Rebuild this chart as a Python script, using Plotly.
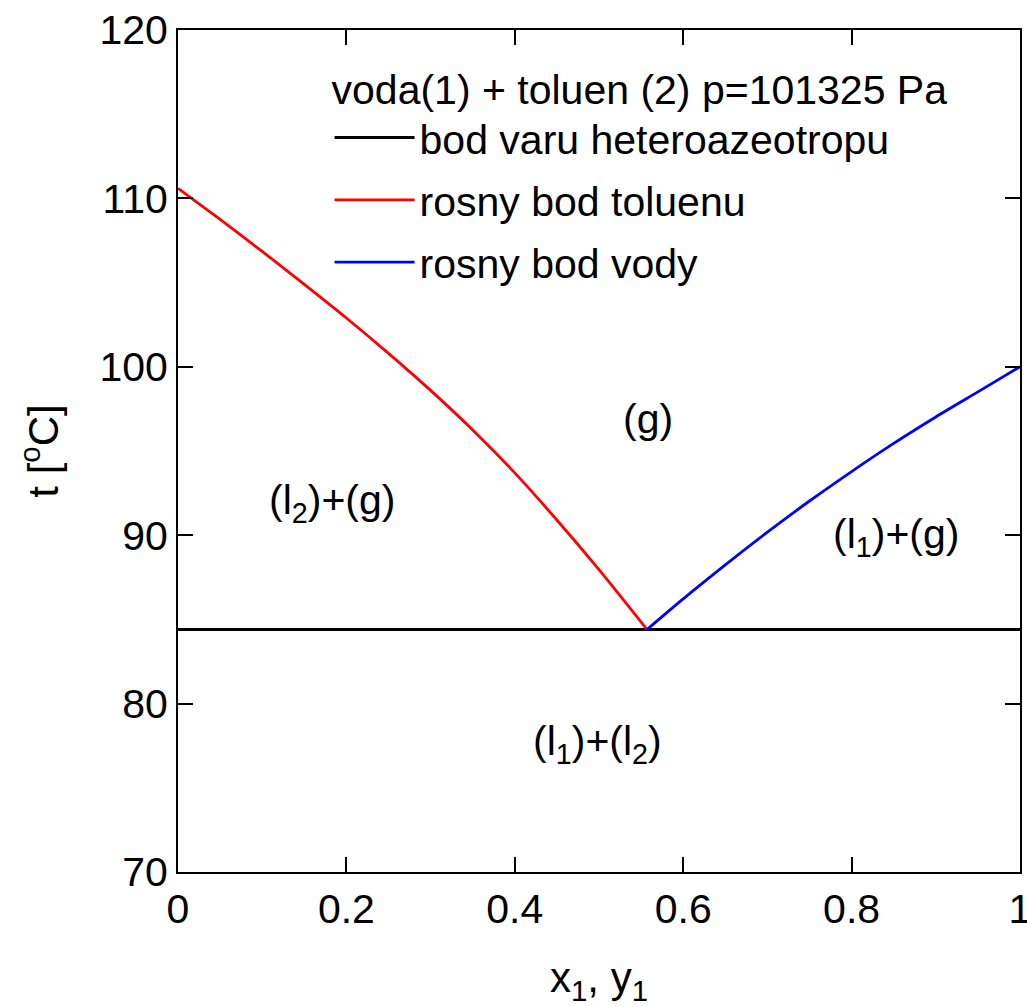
import plotly.graph_objects as go

# Phase diagram of water(1) + toluene(2) at p = 101325 Pa
t_azeo = 84.4          # heteroazeotrope boiling point [°C]

# dew curve of toluene (left branch)
y1_tol = [0.0, 0.05, 0.10, 0.15, 0.20, 0.25, 0.30, 0.35, 0.40, 0.45, 0.50, 0.557]
t_tol = [110.6, 108.75, 106.85, 104.9, 102.9, 100.8, 98.6, 96.25, 93.7, 90.9, 87.95, 84.4]

# dew curve of water (right branch)
y1_w = [0.557, 0.60, 0.65, 0.70, 0.75, 0.80, 0.85, 0.90, 0.95, 1.0]
t_w = [84.4, 86.22, 88.24, 90.18, 92.03, 93.78, 95.45, 97.02, 98.51, 100.0]

# heteroazeotrope line spans the whole composition range
x_line = [0.0, 1.0]
t_line = [t_azeo, t_azeo]

x_ticks = [0, 0.2, 0.4, 0.6, 0.8, 1]
x_tick_text = ["0", "0.2", "0.4", "0.6", "0.8", "1"]
t_ticks = [70, 80, 90, 100, 110, 120]

region_labels = ["(g)", "(l<sub>2</sub>)+(g)", "(l<sub>1</sub>)+(g)", "(l<sub>1</sub>)+(l<sub>2</sub>)"]
region_x = [0.558, 0.183, 0.853, 0.498]
region_t = [96.9, 91.9, 89.9, 77.6]

FONT = "Liberation Sans, Arial, Helvetica, sans-serif"

fig = go.Figure()
fig.add_trace(go.Scatter(x=x_line, y=t_line, mode="lines",
                         line=dict(color="black", width=3),
                         name="bod varu heteroazeotropu", legendgroup="a"))
fig.add_trace(go.Scatter(x=y1_tol, y=t_tol, mode="lines",
                         line=dict(color="#ff0000", width=2.8, shape="spline", smoothing=0.8),
                         name="rosny bod toluenu", legendgroup="b"))
fig.add_trace(go.Scatter(x=y1_w, y=t_w, mode="lines",
                         line=dict(color="#0000ff", width=2.8, shape="spline", smoothing=0.8),
                         name="rosny bod vody", legendgroup="c"))

for txt, xx, tt in zip(region_labels, region_x, region_t):
    fig.add_annotation(x=xx, y=tt, text=txt, showarrow=False,
                       font=dict(size=41, color="black", family=FONT))

axis_common = dict(
    showgrid=False, zeroline=False, showline=True, linecolor="black",
    linewidth=2, mirror="ticks", ticks="inside", ticklen=15, tickwidth=1.5,
    tickcolor="black", tickfont=dict(size=41, color="black", family=FONT),
    ticklabeloverflow="allow", automargin=False,
)

fig.update_layout(
    width=1027, height=1007,
    margin=dict(l=178, r=7, t=30, b=135, autoexpand=False),
    paper_bgcolor="white", plot_bgcolor="white",
    font=dict(family=FONT, color="black"),
    xaxis=dict(range=[0, 1], tickvals=x_ticks, ticktext=x_tick_text,
               title=dict(text="x<sub>1</sub>, y<sub>1</sub>",
                          font=dict(size=42, family=FONT), standoff=38),
               **axis_common),
    yaxis=dict(range=[70, 120], tickvals=t_ticks,
               title=dict(text="t [<sup>o</sup>C]",
                          font=dict(size=42, family=FONT), standoff=28),
               **axis_common),
    showlegend=True,
    legend=dict(x=0.18, y=0.975, xanchor="left", yanchor="top",
                bgcolor="rgba(0,0,0,0)", borderwidth=0,
                font=dict(size=41, family=FONT, color="black"),
                title=dict(text="voda(1) + toluen (2) p=101325 Pa",
                           font=dict(size=41, family=FONT, color="black")),
                itemwidth=80, tracegroupgap=6),
)

fig.write_html("out.html")
